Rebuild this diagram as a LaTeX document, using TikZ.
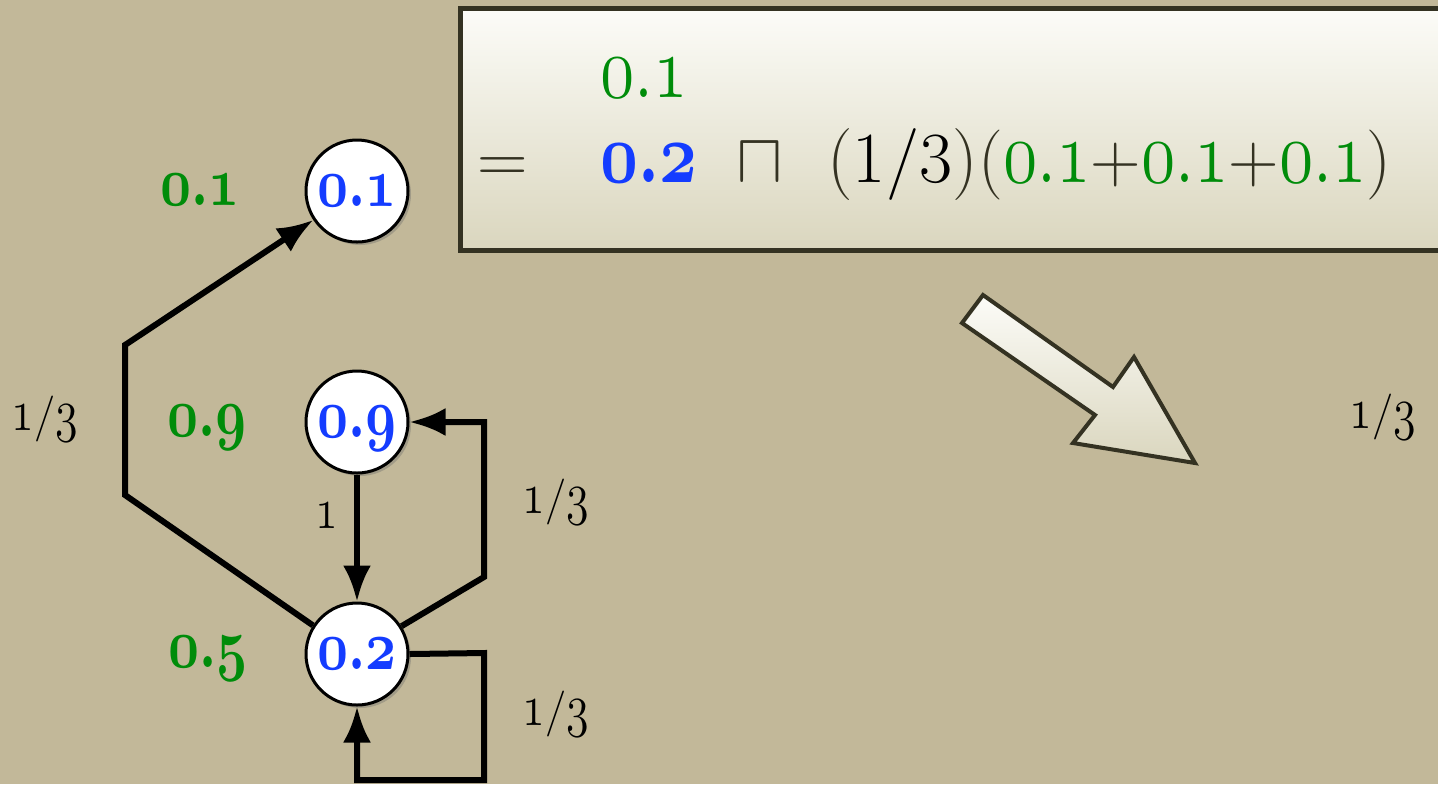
\RequirePackage{fix-cm}
\documentclass[tikz,border=0pt]{standalone}
\usetikzlibrary{arrows.meta,shadows}
\definecolor{bg}{RGB}{194,184,153}
\definecolor{lgreen}{RGB}{0,140,10}
\definecolor{lblue}{RGB}{20,60,255}
\definecolor{olive}{RGB}{52,50,34}
\definecolor{boxtop}{RGB}{252,252,248}
\definecolor{boxbot}{RGB}{218,214,190}
% old-style figures (OML: the period sits at slot 58), slightly stretched vertically
\newcommand{\odn}[2]{\scalebox{1}[1.28]{\usefont{OML}{cmm}{m}{it}#1\char58 #2}}
\newcommand{\odbn}[2]{\scalebox{1}[1.3]{\usefont{OML}{cmm}{b}{it}#1\char58 #2}}
\newcommand{\odd}[1]{\scalebox{1}[1.28]{\usefont{OML}{cmm}{m}{it}#1}}
\begin{document}
\begin{tikzpicture}[x=0.5pt,y=-0.5pt,
  state/.style={circle, draw=black, line width=1.5pt, fill=white, minimum size=51pt, inner sep=0pt,
    text=lblue, font=\fontsize{27}{27}\selectfont, text depth=0pt,
    drop shadow={shadow xshift=1.5pt, shadow yshift=-1.5pt, opacity=0.35, fill=black!60}},
  glab/.style={anchor=base, inner sep=0pt, text=lgreen, font=\fontsize{27}{27}\selectfont},
  elab/.style={anchor=base, inner sep=0pt, text=black, font=\fontsize{23}{23}\selectfont},
  boxtxt/.style={inner sep=0pt, text=olive, font=\fontsize{35}{35}\selectfont},
  conn/.style={line width=3pt, line join=miter, -{Latex[length=18pt,width=14pt]}}]
\useasboundingbox (0,0) rectangle (1438,784);
\clip (0,0) rectangle (1438,784);
\fill[bg] (0,0) rectangle (1438,784);
% formula box
\draw[draw=olive, line width=2.5pt, top color=boxtop, bottom color=boxbot] (460,8) rectangle (1470,250);
\node[boxtxt, anchor=base west, text=lgreen] (b1) at (600,97) {\odn{0}{1}};
\node[boxtxt, anchor=base] (beq) at (503,182) {$=$};
\node[boxtxt, anchor=base west, text=lblue, font=\fontsize{33}{33}\selectfont] (b2) at (600,182) {\odbn{0}{2}};
\node[boxtxt, anchor=base] (bcap) at (760,182) {$\sqcap$};
\node[boxtxt, anchor=base west] (bsum) at (978,182)
  {(\textcolor{lgreen}{\odn{0}{1}}+\textcolor{lgreen}{\odn{0}{1}}+\textcolor{lgreen}{\odn{0}{1}})};
\node[boxtxt, anchor=base east, font=\fontsize{36}{36}\selectfont] (b13) at (bsum.base west)
  {(\textcolor{black}{1/3})};
% big arrow
\draw[draw=olive, line width=2pt, line join=miter, top color=boxtop, bottom color=boxbot]
  (983,295) -- (1113,387) -- (1134,357) -- (1195,463) -- (1073,443) -- (1095,415) -- (962,323) -- cycle;
% states
\node[state] (v1) at (357,191) {\odbn{0}{1}};
\node[state] (v9) at (357,422) {\odbn{0}{9}};
\node[state] (v2) at (357,654) {\odbn{0}{2}};
% green labels
\node[glab] (g1) at (200,205) {\odbn{0}{1}};
\node[glab] (g9) at (207,436) {\odbn{0}{9}};
\node[glab] (g5) at (208,667) {\odbn{0}{5}};
% connectors
\draw[conn] (v2.147) -- (125,495) -- (125,345) -- (v1);
\draw[conn] (v9) -- (v2);
\draw[conn] (v2.32) -- (484,577) -- (484,422) -- (v9);
\draw[conn] (v2.east) -- (484,653) -- (484,780) -- (357,780) -- (v2);
% edge labels
\node[elab] (l1) at (45,430) {\odd{1}/\odd{3}};
\node[elab] (l2) at (327,528) {\odd{1}};
\node[elab] (l3) at (556,513) {\odd{1}/\odd{3}};
\node[elab] (l4) at (556,725) {\odd{1}/\odd{3}};
\node[elab] (l5) at (1383,428) {\odd{1}/\odd{3}};
\end{tikzpicture}
\end{document}
